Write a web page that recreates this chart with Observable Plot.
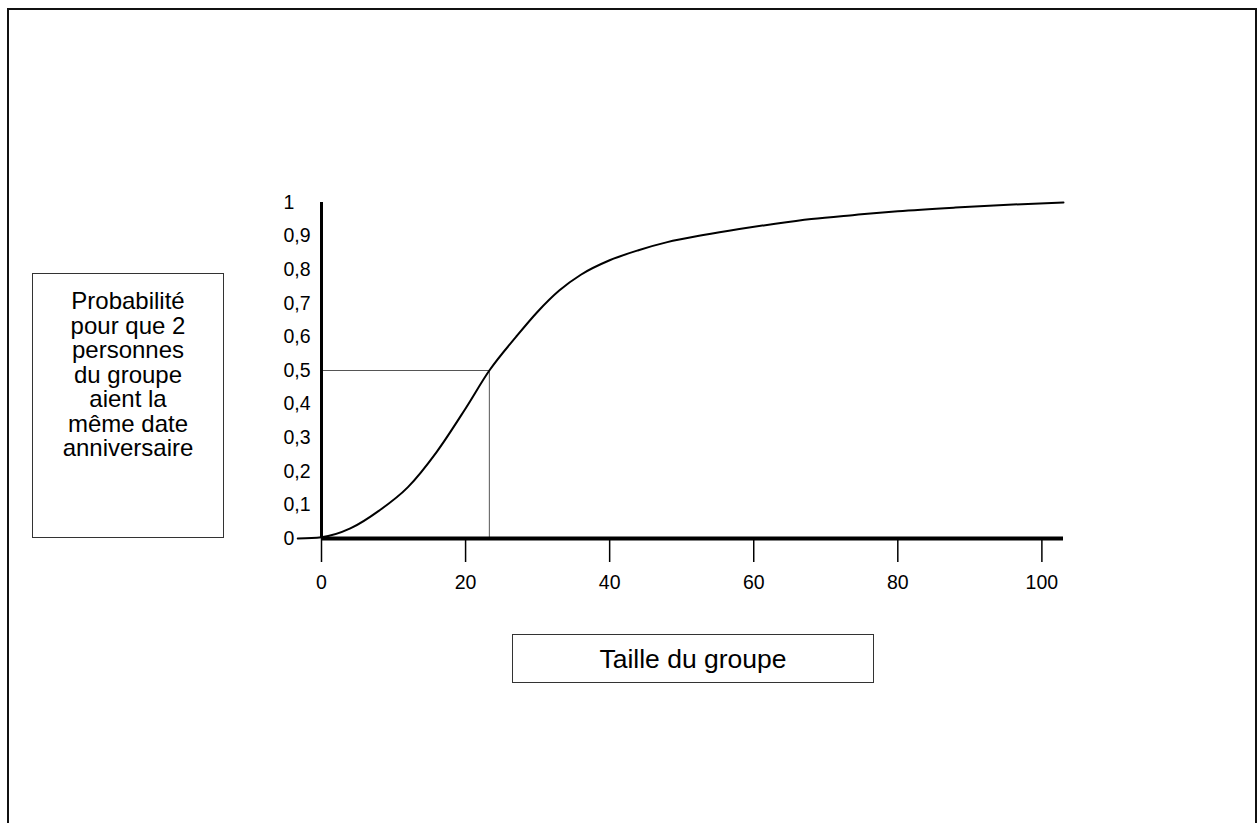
<!DOCTYPE html>
<html>
<head>
<meta charset="utf-8">
<script src="https://cdn.jsdelivr.net/npm/d3@7"></script>
<script src="https://cdn.jsdelivr.net/npm/@observablehq/plot@0.6"></script>
<style>
  html, body { margin: 0; padding: 0; background: #fff; overflow: hidden; }
  #page { position: relative; width: 1258px; height: 823px; overflow: hidden; font-family: "Liberation Sans", Arial, sans-serif; color: #000; }
  #frame { position: absolute; left: 7px; top: 8px; width: 1246px; height: 900px; border: 2px solid #111; }
  #chart { position: absolute; left: 0; top: 0; }
  .box { position: absolute; box-sizing: border-box; border: 1px solid #333; background: #fff; text-align: center; }
  #ybox { left: 32px; top: 273px; width: 192px; height: 265px; font-size: 24px; line-height: 24.5px; padding-top: 15px; }
  #xbox { left: 512px; top: 634px; width: 362px; height: 49px; font-size: 26.5px; line-height: 48px; }
</style>
</head>
<body>
<div id="page">
  <div id="frame"></div>
  <div id="chart"></div>
  <div class="box" id="ybox">Probabilité<br>pour que 2<br>personnes<br>du groupe<br>aient la<br>même date<br>anniversaire</div>
  <div class="box" id="xbox">Taille du groupe</div>
</div>
<script>
// Group size (x) and probability that two people share a birthday (y)
const groupSizes = [-3.3, 0, 4, 8, 12, 16, 20, 23.3, 27, 30, 33, 36, 40, 44, 48, 53, 58, 63, 68, 74, 80, 88, 96, 103];
const probabilities = [0, 0.004, 0.03, 0.083, 0.153, 0.258, 0.387, 0.5, 0.6, 0.675, 0.738, 0.785, 0.828, 0.858, 0.882, 0.903, 0.921, 0.937, 0.951, 0.963, 0.974, 0.985, 0.994, 1.0];

// Tick values
const xTicks = [0, 20, 40, 60, 80, 100];
const yTicks = [0, 0.1, 0.2, 0.3, 0.4, 0.5, 0.6, 0.7, 0.8, 0.9, 1];

// Reference point: 50% reached at ~23 people
const halfSize = 23.3;
const halfProb = 0.5;
const xMax = 103;

const curve = groupSizes.map((x, i) => ({x, y: probabilities[i]}));

const chart = Plot.plot({
  width: 1258,
  height: 823,
  marginLeft: 321,
  marginRight: 195,
  marginTop: 202,
  marginBottom: 285,
  x: {domain: [0, xMax]},
  y: {domain: [0, 1]},
  style: {fontFamily: '"Liberation Sans", Arial, sans-serif', fontSize: "19px", color: "#000", background: "transparent"},
  marks: [
    Plot.ruleY([halfProb], {x1: 0, x2: halfSize, stroke: "#555", strokeWidth: 1}),
    Plot.ruleX([halfSize], {y1: 0, y2: halfProb, stroke: "#555", strokeWidth: 1}),
    Plot.line(curve, {x: "x", y: "y", curve: "monotone-x", stroke: "#000", strokeWidth: 2}),
    Plot.ruleY([0], {stroke: "#000", strokeWidth: 4}),
    Plot.ruleX([0], {stroke: "#000", strokeWidth: 3}),
    Plot.axisX(xTicks, {tickSize: 24, tickPadding: 13, strokeWidth: 1.5, fontSize: 19.5, label: null, tickFormat: d => String(d)}),
    Plot.axisY(yTicks, {tickSize: 0, tickPadding: 38, textAnchor: "start", fontSize: 19.5, label: null, tickFormat: d => String(d).replace(".", ",")})
  ]
});
document.getElementById("chart").appendChild(chart);
</script>
</body>
</html>
